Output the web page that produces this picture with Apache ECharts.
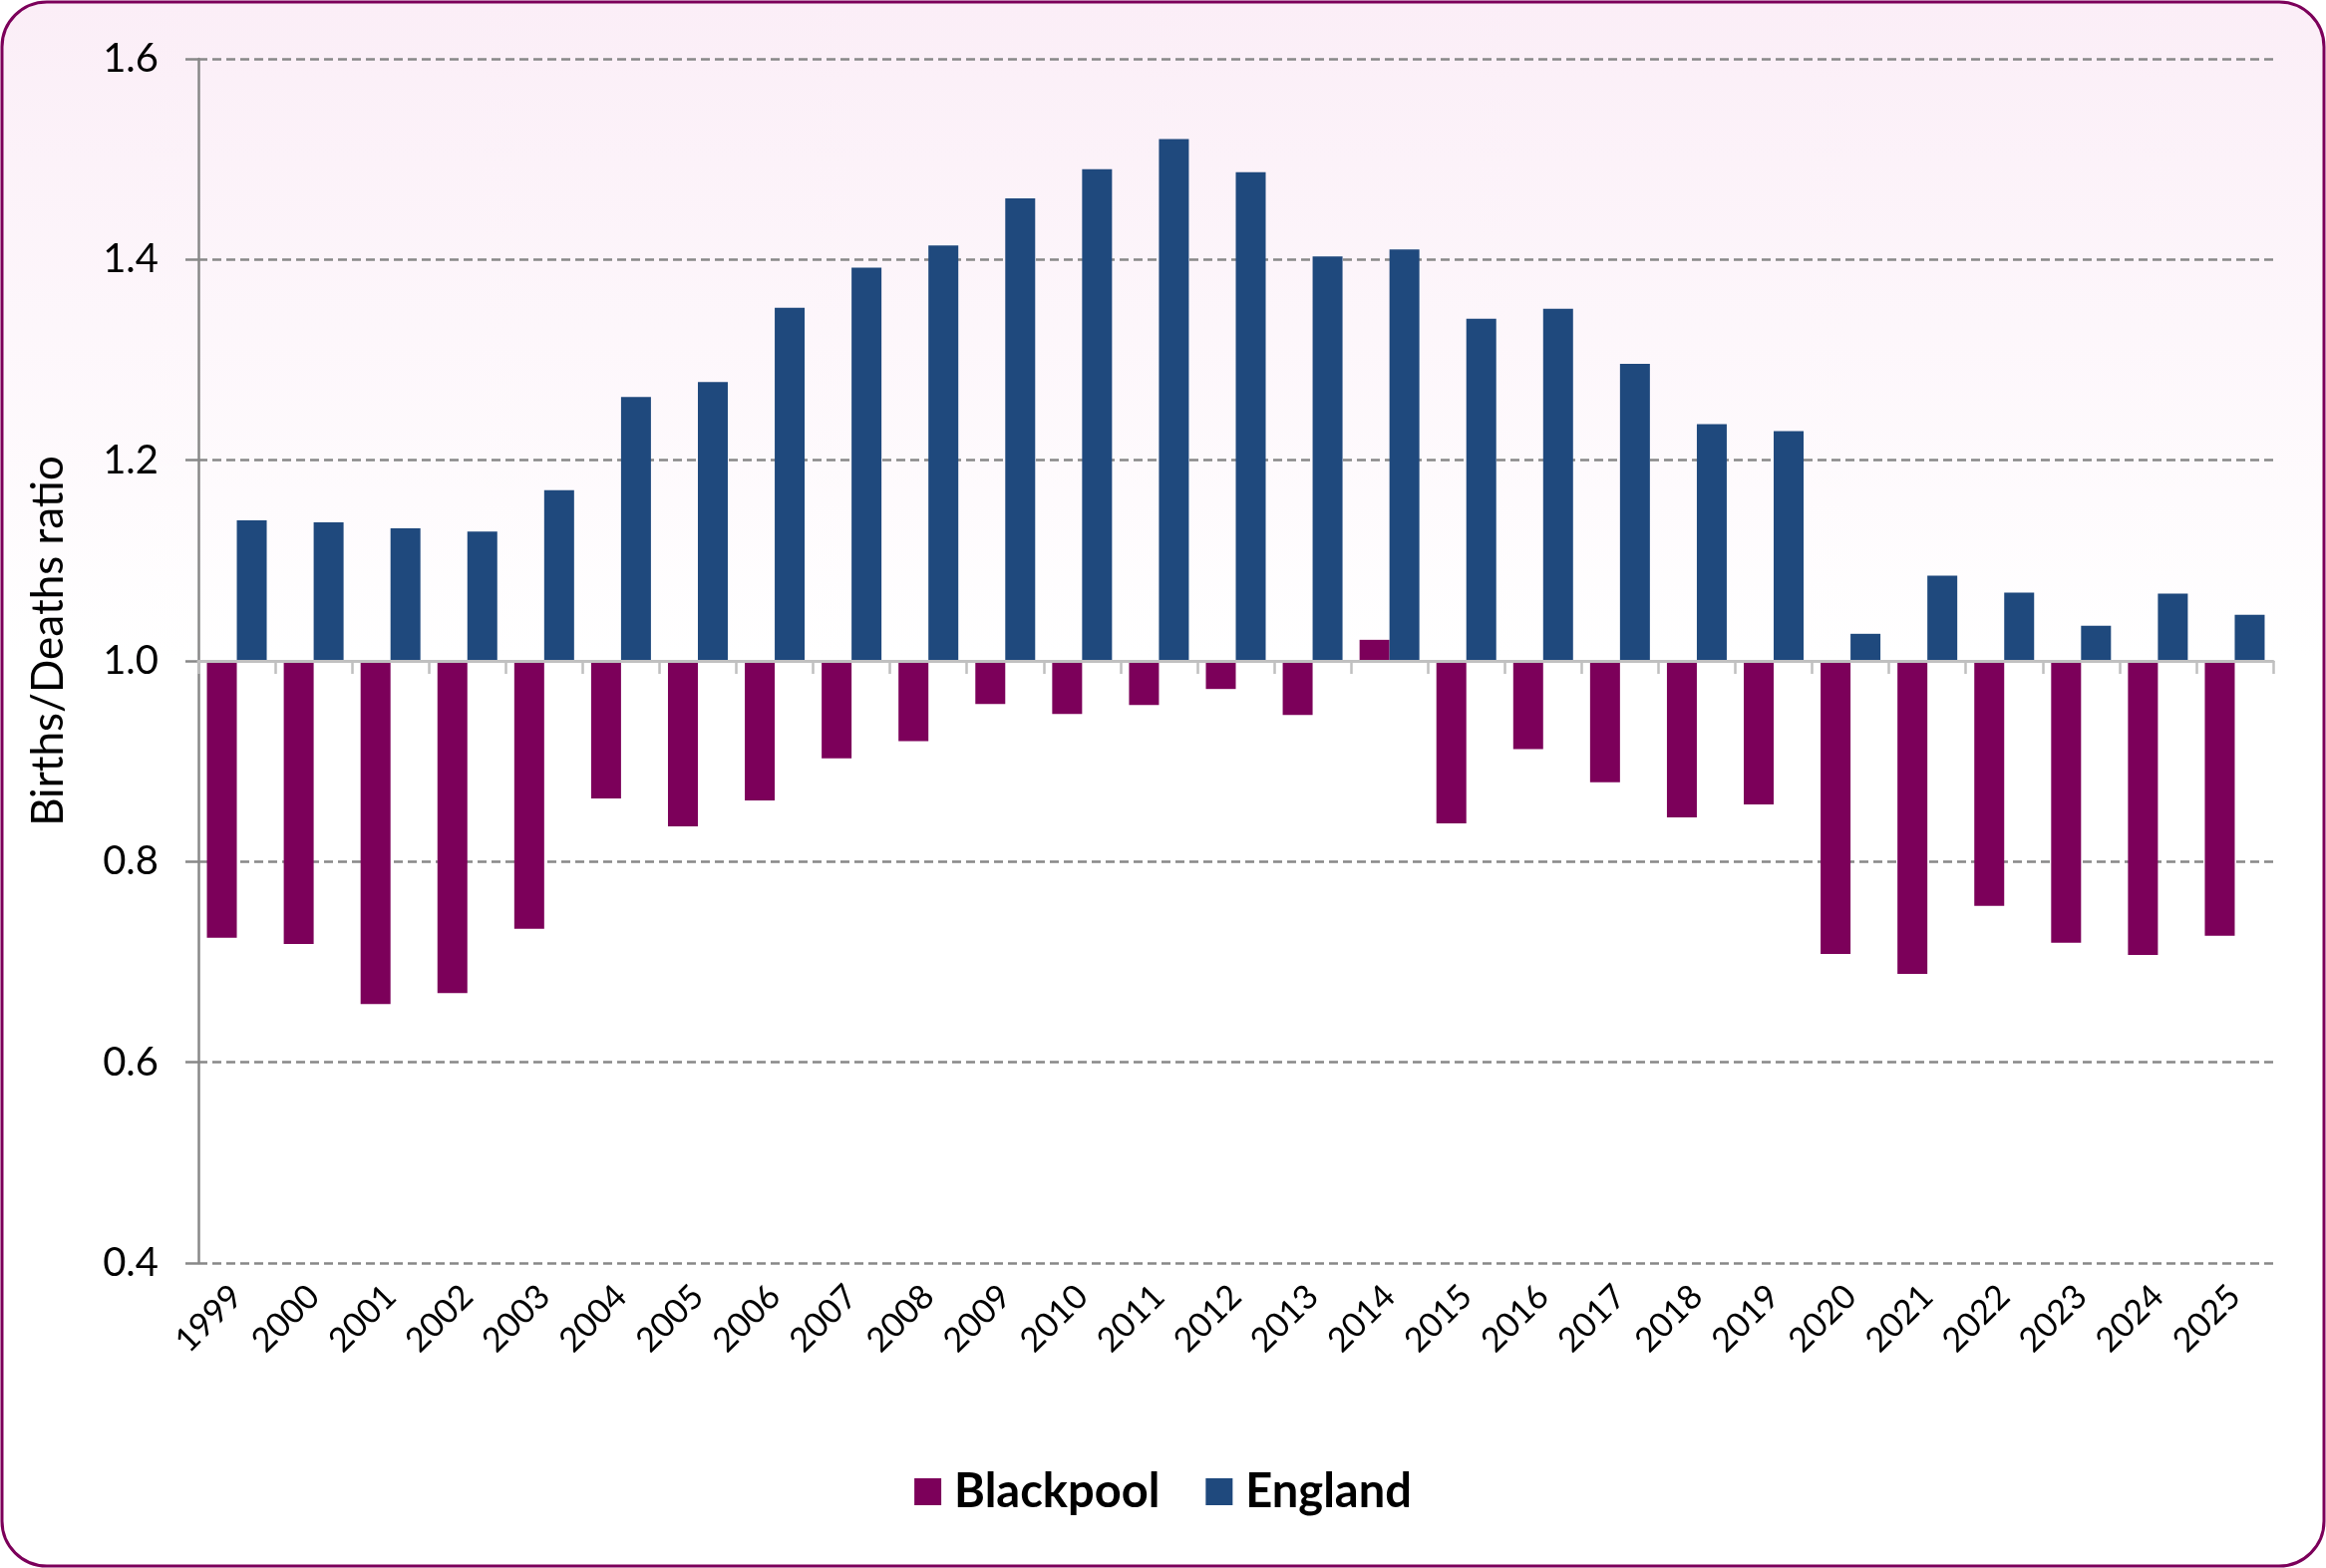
<!DOCTYPE html>
<html lang="en">
<head>
  <meta charset="UTF-8">
  <title>Births/Deaths ratio</title>
  <script src="https://cdn.jsdelivr.net/npm/echarts@6/dist/echarts.min.js"></script>
</head>
<body style="margin:0; background:#fff">
  <div id="main" style="width:2333px;height:1573px;"></div>
  <script type="text/javascript">
    var myChart = echarts.init(document.getElementById('main'));

    // years on the x axis
    const years = ['1999', '2000', '2001', '2002', '2003', '2004', '2005', '2006', '2007',
      '2008', '2009', '2010', '2011', '2012', '2013', '2014', '2015', '2016', '2017',
      '2018', '2019', '2020', '2021', '2022', '2023', '2024', '2025']

    // births / deaths ratio
    const blackpool = [0.724, 0.718, 0.658, 0.669, 0.733, 0.863, 0.835, 0.861, 0.903,
      0.920, 0.957, 0.947, 0.956, 0.972, 0.946, 1.021, 0.838, 0.912, 0.879,
      0.844, 0.857, 0.708, 0.688, 0.756, 0.719, 0.707, 0.726]
    const england = [1.140, 1.138, 1.132, 1.129, 1.170, 1.263, 1.278, 1.352, 1.392,
      1.414, 1.461, 1.490, 1.520, 1.487, 1.403, 1.410, 1.341, 1.351, 1.296,
      1.236, 1.229, 1.027, 1.085, 1.068, 1.035, 1.067, 1.046]

    // bars grow from 1.0, so the value axis runs relative to 1
    const base = 1
    const rel = arr => arr.map(v => +(v - base).toFixed(4))

    const font = 'Lato'

    const option = {
      animation: false,
      textStyle: { fontFamily: font, color: '#000' },
      graphic: [{
        type: 'rect',
        z: -100,
        silent: true,
        shape: { x: 2, y: 2, width: 2329, height: 1569, r: 45 },
        style: {
          fill: new echarts.graphic.LinearGradient(0, 0, 0, 1, [
            { offset: 0, color: '#fbeef7' },
            { offset: 0.42, color: '#ffffff' },
            { offset: 1, color: '#ffffff' }
          ]),
          stroke: '#7c005a',
          lineWidth: 3
        }
      }],
      grid: { left: 199, right: 53, top: 59, bottom: 306 },
      legend: {
        bottom: 48,
        left: 'center',
        itemWidth: 27,
        itemHeight: 27,
        itemGap: 46,
        icon: 'rect',
        textStyle: { fontFamily: font, fontSize: 47, fontWeight: 'bold', color: '#000', padding: [0, 0, 0, 8] },
        data: ['Blackpool', 'England']
      },
      xAxis: [{
        type: 'category',
        data: years,
        axisLine: { onZero: true, lineStyle: { color: '#c0c0c0', width: 3 } },
        axisTick: { show: true, length: 13, lineStyle: { color: '#c0c0c0', width: 2.5 } },
        axisLabel: { show: false },
        z: 3
      }, {
        type: 'category',
        data: years,
        position: 'bottom',
        axisLine: { show: false, onZero: false },
        axisTick: { show: false },
        axisLabel: { rotate: 45, fontSize: 34, margin: 28, color: '#000', fontFamily: font }
      }],
      yAxis: {
        type: 'value',
        min: -0.6,
        max: 0.6,
        interval: 0.2,
        name: 'Births/Deaths ratio',
        nameLocation: 'middle',
        nameGap: 128,
        nameTextStyle: { fontSize: 44, fontFamily: font, color: '#000', padding: [0, 0, 0, 40] },
        axisLine: { show: true, lineStyle: { color: '#888', width: 2.5 } },
        axisTick: { show: true, length: 13, lineStyle: { color: '#888', width: 2.5 } },
        axisLabel: {
          fontSize: 40,
          margin: 40,
          color: '#000',
          fontFamily: font,
          formatter: v => (v + base).toFixed(1)
        },
        splitLine: { lineStyle: { color: '#888', width: 2.5, type: [9, 5] } }
      },
      series: [{
        name: 'Blackpool',
        type: 'bar',
        xAxisIndex: 0,
        barWidth: 30,
        barGap: '0%',
        itemStyle: { color: '#7c005a' },
        data: rel(blackpool)
      }, {
        name: 'England',
        type: 'bar',
        xAxisIndex: 0,
        barWidth: 30,
        barGap: '0%',
        itemStyle: { color: '#1f497d' },
        data: rel(england)
      }]
    }

    myChart.setOption(option);
  </script>
</body>
</html>
